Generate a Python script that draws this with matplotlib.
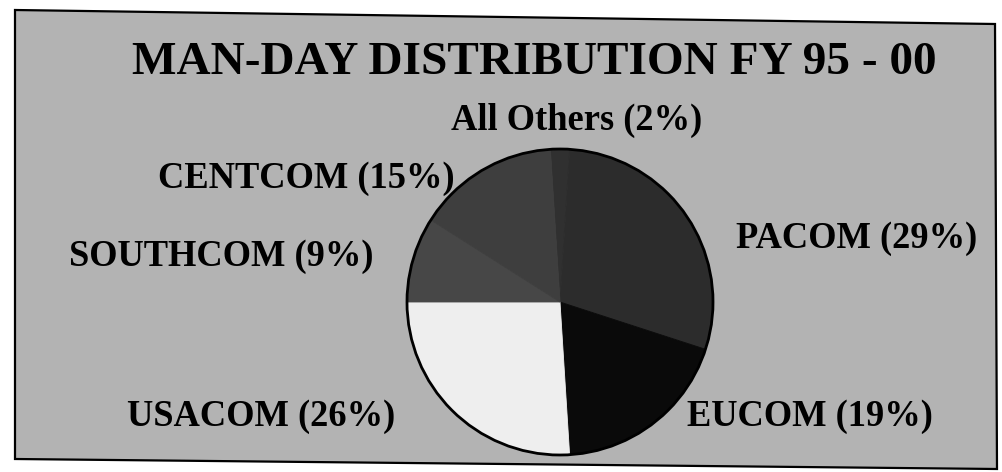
import matplotlib.pyplot as plt
from matplotlib.patches import Polygon, Circle

# data
labels = ['All Others', 'PACOM', 'EUCOM', 'USACOM', 'SOUTHCOM', 'CENTCOM']
shares = [2, 29, 19, 26, 9, 15]
colors = ['#303030', '#2c2c2c', '#0a0a0a', '#eeeeee', '#474747', '#3e3e3e']

W, H = 1003, 472
fig = plt.figure(figsize=(W / 100, H / 100), dpi=100, facecolor='white')

def fx(x):
    return x / W

def fy(y):
    return 1 - y / H

# scanned slide frame (slightly skewed like the scan)
corners = [(15, 10), (995, 24), (997, 469), (15, 459)]
fig.patches.append(Polygon([(fx(x), fy(y)) for x, y in corners], closed=True,
                           transform=fig.transFigure, facecolor='#b3b3b3',
                           edgecolor='black', linewidth=1.6, zorder=-1))

# pie
cx, cy, r = 560, 302, 153
pad = 1.02
ax = fig.add_axes([fx(cx - r * pad), fy(cy + r * pad), 2 * r * pad / W, 2 * r * pad / H], zorder=2)
ax.patch.set_visible(False)
wedges, _ = ax.pie(shares, colors=colors, startangle=93.6, counterclock=False, radius=1)
for w in wedges:
    w.set_edgecolor(w.get_facecolor())
    w.set_linewidth(0.6)
ax.add_patch(Circle((0, 0), 1, facecolor='none', edgecolor='black', linewidth=2))
ax.set_xlim(-pad, pad)
ax.set_ylim(-pad, pad)
ax.set_aspect('equal')
ax.axis('off')

font = dict(family='Liberation Serif', weight='bold', color='black')

fig.text(fx(534), fy(74), 'MAN-DAY DISTRIBUTION FY 95 - 00', fontsize=34,
         ha='center', va='baseline', zorder=3, **font)

label_pos = {
    'All Others': (577, 120),
    'PACOM': (857, 238),
    'EUCOM': (810, 417),
    'USACOM': (261, 416),
    'SOUTHCOM': (221, 256),
    'CENTCOM': (306, 178),
}
for name, pct in zip(labels, shares):
    x, y = label_pos[name]
    # CENTCOM label tucks under the pie edge in the original
    fig.text(fx(x), fy(y), f'{name} ({pct}%)', fontsize=26.3, ha='center', va='center',
             zorder=1 if name == 'CENTCOM' else 3, **font)

plt.savefig('out.png', dpi=100, facecolor='white')
